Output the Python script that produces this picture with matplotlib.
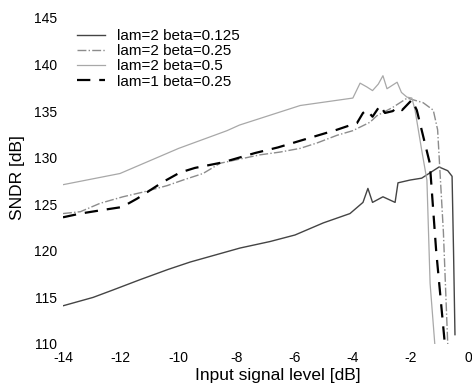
import matplotlib.pyplot as plt

plt.rcParams['font.family'] = ['Liberation Sans', 'DejaVu Sans']
plt.rcParams['axes.unicode_minus'] = False

# lam=2 beta=0.125 (lowest curve)
x_b0125 = [-14, -12.96, -12.27, -11.34, -10.37, -9.6, -7.88, -6.84, -5.98, -5.0, -4.08,
           -3.63, -3.46, -3.3, -2.94, -2.52, -2.42, -2.0, -1.6, -1.0, -0.7, -0.55, -0.5, -0.45]
y_b0125 = [114.1, 115.0, 115.8, 116.9, 118.0, 118.8, 120.3, 121.0, 121.7, 123.0, 124.0,
           125.2, 126.7, 125.2, 125.8, 125.2, 127.3, 127.6, 127.8, 129.0, 128.6, 128.0, 120.0, 111.0]

# lam=2 beta=0.25
x_b025 = [-14, -13.4, -12.72, -11.93, -11.24, -10.4, -9.85, -9.16, -8.57, -7.2, -6.5, -5.8,
          -5.2, -4.53, -3.98, -3.39, -3.15, -2.6, -2.1, -1.55, -1.2, -1.05, -0.85, -0.7]
y_b025 = [124.0, 124.2, 125.1, 125.8, 126.3, 127.0, 127.6, 128.3, 129.4, 130.3, 130.6, 131.0,
          131.6, 132.4, 132.9, 133.8, 134.5, 135.4, 136.4, 135.9, 135.1, 133.0, 122.0, 110.0]

# lam=2 beta=0.5 (upper curve)
x_b05 = [-14, -12.03, -10.0, -8.33, -7.9, -5.8, -3.98, -3.73, -3.5, -3.3, -3.1, -2.94, -2.8,
         -2.6, -2.45, -2.3, -2.11, -1.94, -1.83, -1.6, -1.42, -1.31, -1.14]
y_b05 = [127.1, 128.3, 131.0, 132.9, 133.5, 135.6, 136.4, 138.0, 137.6, 137.2, 137.9, 138.8, 137.4,
         137.8, 138.1, 137.0, 136.5, 136.4, 135.1, 130.8, 127.6, 116.5, 109.7]

# lam=1 beta=0.25 (dashed)
x_l1 = [-14, -13.4, -12.6, -11.96, -11.44, -10.54, -9.96, -9.44, -8.47, -7.36, -6.57, -5.39,
        -4.53, -4.15, -3.84, -3.63, -3.5, -3.3, -3.04, -2.87, -2.6, -2.45, -2.28, -1.94,
        -1.77, -1.32, -1.1, -0.8]
y_l1 = [123.6, 124.0, 124.4, 124.7, 125.6, 127.4, 128.4, 128.9, 129.5, 130.5, 131.1, 132.2,
        133.0, 133.4, 133.7, 134.8, 135.1, 134.4, 135.6, 134.8, 135.0, 135.4, 135.1, 136.2,
        135.1, 129.4, 120.0, 110.0]

xticks = [-14, -12, -10, -8, -6, -4, -2, 0]
yticks = [110, 115, 120, 125, 130, 135, 140, 145]

fig = plt.figure(figsize=(4.72, 3.90), dpi=100)
ax = fig.add_axes([0.1335, 0.118, 0.858, 0.836])

ax.plot(x_b0125, y_b0125, color='#444444', linestyle='-', linewidth=1.0, label='lam=2 beta=0.125')
ax.plot(x_b025, y_b025, color='#8c8c8c', linestyle='-.', linewidth=1.0, label='lam=2 beta=0.25')
ax.plot(x_b05, y_b05, color='#a8a8a8', linestyle='-', linewidth=0.9, label='lam=2 beta=0.5')
ax.plot(x_l1, y_l1, color='black', linestyle=(0, (6, 4)), linewidth=1.6, label='lam=1 beta=0.25')

ax.set_xlim(-14, 0)
ax.set_ylim(110, 145)
ax.set_xticks(xticks)
ax.set_yticks(yticks)
ax.tick_params(length=0, labelsize=10)
ax.tick_params(axis='x', pad=5)
ax.tick_params(axis='y', pad=4)
for s in ax.spines.values():
    s.set_visible(False)

ax.set_xlabel('Input signal level [dB]', fontsize=12.5)
ax.set_ylabel('SNDR [dB]', fontsize=12.5)
ax.xaxis.set_label_coords(0.53, -0.075)
ax.yaxis.set_label_coords(-0.093, 0.51)

ax.legend(loc='upper left', bbox_to_anchor=(0.02, 0.985), frameon=False, fontsize=11,
          handlelength=1.83, handletextpad=0.78, labelspacing=0.08, borderaxespad=0)

fig.savefig('out.png', dpi=100)
